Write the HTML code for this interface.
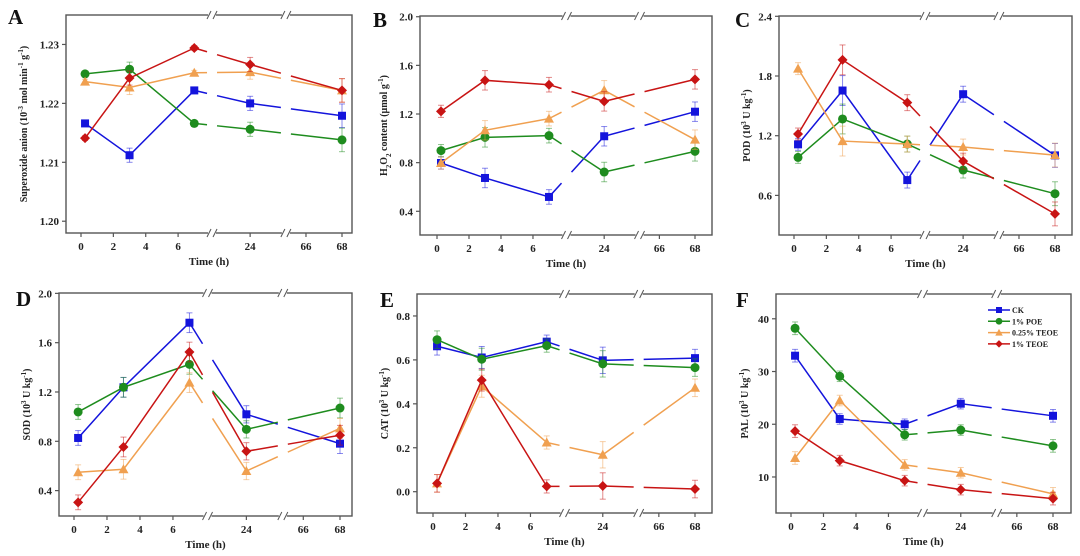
<!DOCTYPE html>
<html><head><meta charset="utf-8"><style>
html,body{margin:0;padding:0;background:#fff;}
svg{display:block;font-family:"Liberation Serif",serif;font-weight:bold;}
</style></head><body>
<svg id="chart" width="1080" height="556" viewBox="0 0 1080 556" xmlns="http://www.w3.org/2000/svg"></svg>
<script>
const times = [0.25, 3, 7, 24, 68];
const xTickLabels = ["0","2","4","6","24","66","68"];
const xTickValues = [0,2,4,6,24,66,68];
const seriesNames = ["CK","1% POE","0.25% TEOE","1% TEOE"];

const A_CK = [1.2166,1.2112,1.2222,1.2200,1.2179];
const A_POE = [1.2250,1.2258,1.2166,1.2156,1.2138];
const A_T025 = [1.2237,1.2227,1.2252,1.2253,1.2222];
const A_T1 = [1.2141,1.2243,1.2294,1.2266,1.2222];
const A_ERR = [0.0004,0.0012,0.0004,0.0012,0.0020];
const A_TICKS = [1.20,1.21,1.22,1.23];

const B_CK = [0.797,0.674,0.518,1.017,1.219];
const B_POE = [0.899,1.008,1.022,0.723,0.893];
const B_T025 = [0.797,1.066,1.162,1.395,0.989];
const B_T1 = [1.222,1.477,1.441,1.304,1.485];
const B_ERR = [0.05,0.08,0.06,0.08,0.08];
const B_TICKS = [0.4,0.8,1.2,1.6,2.0];

const C_CK = [1.113,1.654,0.754,1.617,1.002];
const C_POE = [0.982,1.368,1.116,0.855,0.617];
const C_T025 = [1.874,1.146,1.116,1.086,1.005];
const C_T1 = [1.217,1.962,1.532,0.944,0.414];
const C_ERR = [0.06,0.15,0.08,0.08,0.12];
const C_TICKS = [0.6,1.2,1.8,2.4];

const D_CK = [0.827,1.238,1.762,1.019,0.781];
const D_POE = [1.038,1.238,1.424,0.897,1.070];
const D_T025 = [0.549,0.573,1.276,0.559,0.905];
const D_T1 = [0.305,0.754,1.524,0.719,0.849];
const D_ERR = [0.06,0.08,0.08,0.07,0.08];
const D_TICKS = [0.4,0.8,1.2,1.6,2.0];

const E_CK = [0.662,0.611,0.683,0.598,0.608];
const E_POE = [0.692,0.603,0.665,0.582,0.565];
const E_T025 = [0.038,0.480,0.224,0.168,0.473];
const E_T1 = [0.038,0.508,0.024,0.026,0.012];
const E_ERR = [0.04,0.05,0.03,0.06,0.04];
const E_TICKS = [0.0,0.2,0.4,0.6,0.8];

const F_CK = [33.0,21.0,20.0,23.9,21.6];
const F_POE = [38.2,29.1,18.0,18.9,15.9];
const F_T025 = [13.6,24.5,12.3,10.8,6.8];
const F_T1 = [18.7,13.1,9.3,7.6,5.9];
const F_ERR = [1.2,1.0,1.0,1.0,1.2];
const F_TICKS = [10,20,30,40];

const colors = ["#1414dc","#1e8c1e","#f0a050","#c81414"];
const shapes = ["square","circle","triangle","diamond"];
const NS = "http://www.w3.org/2000/svg";
const svg = document.getElementById("chart");

function mk(tag, attrs, parent){
  const e = document.createElementNS(NS, tag);
  for (const k in attrs) e.setAttribute(k, attrs[k]);
  (parent||svg).appendChild(e);
  return e;
}
const knotsT = [0,7,24,66,68];
const knotsF = [0,0.434,0.648,0.862,1];
const break1F = 0.502, break2F = 0.785;
function tFrac(t){
  for (let i=0;i<knotsT.length-1;i++){
    if (t<=knotsT[i+1]) return knotsF[i]+(t-knotsT[i])/(knotsT[i+1]-knotsT[i])*(knotsF[i+1]-knotsF[i]);
  }
  return 1;
}
function marker(g, shape, x, y, c){
  let m;
  if (shape==="square") m = mk("rect",{x:x-4,y:y-4,width:8,height:8,fill:c},g);
  else if (shape==="circle") m = mk("circle",{cx:x,cy:y,r:4.5,fill:c},g);
  else if (shape==="triangle") m = mk("polygon",{points:`${x},${y-5} ${x+5},${y+4} ${x-5},${y+4}`,fill:c},g);
  else m = mk("polygon",{points:`${x},${y-5} ${x+5},${y} ${x},${y+5} ${x-5},${y}`,fill:c},g);
  return m;
}

const panels = [
 {id:"a",letter:"A",lx:8,ly:24,l:66,t:15,r:352,b:233,x0:81,x68:342,ymin:1.198,ymax:1.235,ticks:A_TICKS,dec:2,series:[A_CK,A_POE,A_T025,A_T1],err:A_ERR,title:"Superoxide anion (10<tspan baseline-shift='super' font-size='7'>-3</tspan> mol min<tspan baseline-shift='super' font-size='7'>-1</tspan> g<tspan baseline-shift='super' font-size='7'>-1</tspan>)",tx:27,fs:10},
 {id:"b",letter:"B",lx:373,ly:27,l:420,t:16,r:712,b:235,x0:437,x68:695,ymin:0.205,ymax:2.006,ticks:B_TICKS,dec:1,series:[B_CK,B_POE,B_T025,B_T1],err:B_ERR,title:"H<tspan baseline-shift='sub' font-size='7'>2</tspan>O<tspan baseline-shift='sub' font-size='7'>2</tspan> content (μmol g<tspan baseline-shift='super' font-size='7'>-1</tspan>)",tx:387,fs:10},
 {id:"c",letter:"C",lx:735,ly:27,l:779,t:16,r:1072,b:235,x0:794,x68:1055,ymin:0.202,ymax:2.403,ticks:C_TICKS,dec:1,series:[C_CK,C_POE,C_T025,C_T1],err:C_ERR,title:"POD (10<tspan baseline-shift='super' font-size='7'>3</tspan> U kg<tspan baseline-shift='super' font-size='7'>-1</tspan>)",tx:750,fs:10},
 {id:"d",letter:"D",lx:16,ly:306,l:59,t:293,r:352,b:516,x0:74,x68:340,ymin:0.194,ymax:2.003,ticks:D_TICKS,dec:1,series:[D_CK,D_POE,D_T025,D_T1],err:D_ERR,title:"SOD (10<tspan baseline-shift='super' font-size='7'>3</tspan> U kg<tspan baseline-shift='super' font-size='7'>-1</tspan>)",tx:30,fs:10},
 {id:"e",letter:"E",lx:380,ly:307,l:417,t:294,r:712,b:513,x0:433,x68:695,ymin:-0.097,ymax:0.9,ticks:E_TICKS,dec:1,series:[E_CK,E_POE,E_T025,E_T1],err:E_ERR,title:"CAT (10<tspan baseline-shift='super' font-size='7'>3</tspan> U kg<tspan baseline-shift='super' font-size='7'>-1</tspan>)",tx:388,fs:10},
 {id:"f",letter:"F",lx:736,ly:307,l:776,t:294,r:1071,b:513,x0:791,x68:1053,ymin:3.17,ymax:44.7,ticks:F_TICKS,dec:0,series:[F_CK,F_POE,F_T025,F_T1],err:F_ERR,title:"PAL (10<tspan baseline-shift='super' font-size='7'>3</tspan> U kg<tspan baseline-shift='super' font-size='7'>-1</tspan>)",tx:748,fs:10}
];

panels.forEach(p=>{
  const g = mk("g",{});
  
  
  const X = t => p.x0 + tFrac(t)*(p.x68-p.x0);
  const Y = v => p.b - (v-p.ymin)/(p.ymax-p.ymin)*(p.b-p.t);
  const bx1 = p.x0 + break1F*(p.x68-p.x0), bx2 = p.x0 + break2F*(p.x68-p.x0);
  const box = mk("rect",{x:p.l,y:p.t,width:p.r-p.l,height:p.b-p.t,fill:"none",stroke:"#555",'stroke-width':1.4},g);
  
  
  [bx1,bx2].forEach(bx=>{
    [p.t,p.b].forEach(yy=>{
      const br = mk("g",{},g);
      
      
      mk("rect",{x:bx-4,y:yy-3,width:8,height:6,fill:"#fff"},br);
      mk("line",{x1:bx-5,y1:yy+4,x2:bx-1,y2:yy-4,stroke:"#555",'stroke-width':1},br);
      mk("line",{x1:bx+1,y1:yy+4,x2:bx+5,y2:yy-4,stroke:"#555",'stroke-width':1},br);
    });
  });
  xTickValues.forEach((tv,i)=>{
    const x = X(tv);
    mk("line",{x1:x,y1:p.b,x2:x,y2:p.b+4,stroke:"#555",'stroke-width':1.2},g);
    const tl = mk("text",{x:x,y:p.b+17,'text-anchor':'middle','font-size':11,fill:"#222"},g);
    tl.textContent = xTickLabels[i];
    
    
  });
  const xt = mk("text",{x:(p.l+p.r)/2,y:p.b+32,'text-anchor':'middle','font-size':11,fill:"#222"},g);
  xt.textContent = "Time (h)";
  
  
  p.ticks.forEach(tv=>{
    const y = Y(tv);
    mk("line",{x1:p.l-4,y1:y,x2:p.l,y2:y,stroke:"#555",'stroke-width':1.2},g);
    const tl = mk("text",{x:p.l-7,y:y+4,'text-anchor':'end','font-size':11,fill:"#222"},g);
    tl.textContent = tv.toFixed(p.dec);
    
    
  });
  const cy = (p.t+p.b)/2;
  const yt = mk("text",{x:p.tx,y:cy,'text-anchor':'middle','font-size':p.fs,fill:"#222",transform:`rotate(-90 ${p.tx} ${cy})`},g);
  yt.innerHTML = p.title;
  
  
  const lt = mk("text",{x:p.lx,y:p.ly,'font-size':21,fill:"#111"},g);
  lt.textContent = p.letter;
  
  
  p.series.forEach((vals,si)=>{
    const sg = mk("g",{},g);
    
    
    const c = colors[si];
    const pts = vals.map((v,i)=>[X(times[i]),Y(v)]);
    mk("polyline",{points:pts.slice(0,3).map(q=>q.join(",")).join(" "),fill:"none",stroke:c,'stroke-width':1.5},sg);
    [[2,3,bx1],[3,4,bx2]].forEach(([a,b2,bx])=>{
      const [xa,ya]=pts[a],[xb,yb]=pts[b2];
      const yAt = x => ya+(yb-ya)*(x-xa)/(xb-xa);
      mk("line",{x1:xa,y1:ya,x2:bx-5,y2:yAt(bx-5),stroke:c,'stroke-width':1.5},sg);
      mk("line",{x1:bx+5,y1:yAt(bx+5),x2:xb,y2:yb,stroke:c,'stroke-width':1.5},sg);
    });
    pts.forEach((q,i)=>{
      const e = p.err[i];
      const y1 = Y(vals[i]+e), y2 = Y(vals[i]-e);
      const eb = mk("g",{stroke:c,'stroke-opacity':0.5,'stroke-width':1},sg);
      mk("line",{x1:q[0],y1:y1,x2:q[0],y2:y2},eb);
      mk("line",{x1:q[0]-3,y1:y1,x2:q[0]+3,y2:y1},eb);
      mk("line",{x1:q[0]-3,y1:y2,x2:q[0]+3,y2:y2},eb);
      const m = marker(sg, shapes[si], q[0], q[1], c);
      
      
    });
  });
});

const lg = mk("g",{});


seriesNames.forEach((n,i)=>{
  const y = 310 + i*11.3;
  const le = mk("g",{},lg);
  
  
  mk("line",{x1:988,y1:y,x2:1010,y2:y,stroke:colors[i],'stroke-width':1.5},le);
  marker(le, shapes[i], 999, y, colors[i]).setAttribute('transform',`translate(${999*0.25} ${y*0.25}) scale(0.75)`);
  const t = mk("text",{x:1012,y:y+3,'font-size':8,fill:"#222"},le);
  t.textContent = n;
});
</script>
</body></html>
